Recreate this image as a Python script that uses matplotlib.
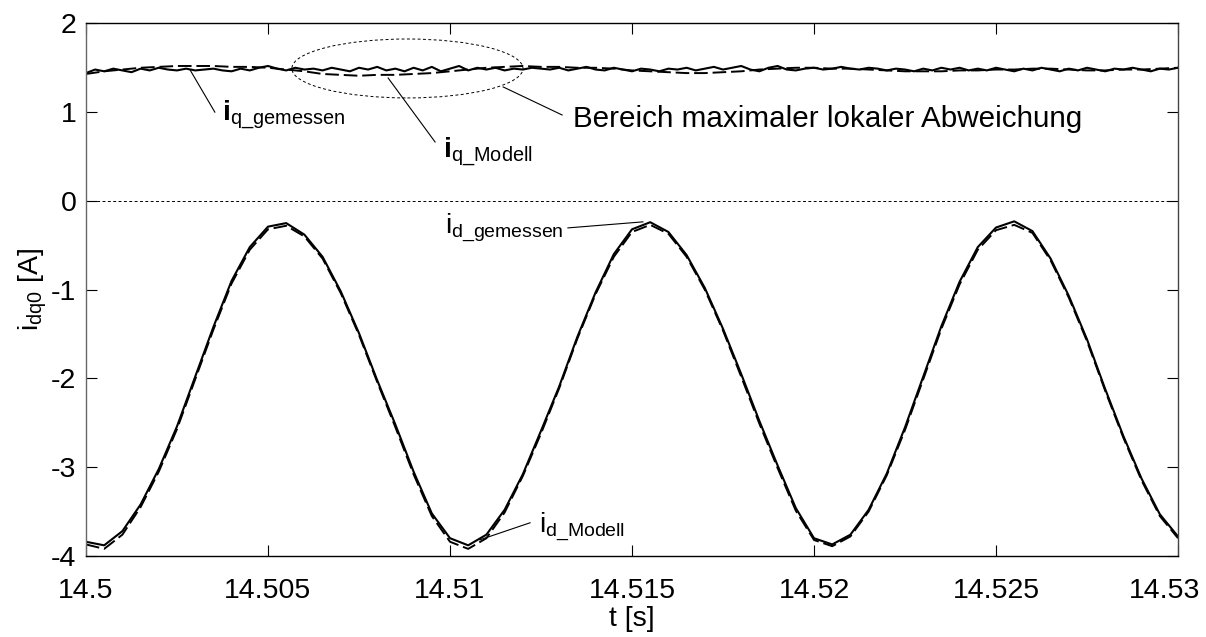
import numpy as np
import matplotlib
matplotlib.use("Agg")
import matplotlib.pyplot as plt
from matplotlib.patches import Ellipse

plt.rcParams['font.family'] = ['Liberation Sans', 'DejaVu Sans']
plt.rcParams['mathtext.fontset'] = 'custom'
plt.rcParams['mathtext.rm'] = 'Liberation Sans'
plt.rcParams['mathtext.it'] = 'Liberation Sans:italic'
plt.rcParams['mathtext.bf'] = 'Liberation Sans:bold'
plt.rcParams['axes.unicode_minus'] = False

# ---------------- data ----------------
t0 = 14.5
# time grid for d-axis currents and q-model (ms offset from 14.5 s), step 0.5 ms
t_ms_coarse = np.arange(0, 30.001, 0.5)
# time grid for measured q current, step 0.25 ms
t_ms_fine = np.arange(0, 30.001, 0.25)

id_gemessen = [
    -3.84, -3.88, -3.72, -3.42, -3.02, -2.54, -1.98, -1.42, -0.90, -0.52,
    -0.29, -0.25, -0.38, -0.63, -1.02, -1.49, -2.02, -2.52, -3.05, -3.52,
    -3.80, -3.88, -3.76, -3.48, -3.08, -2.59, -2.09, -1.53, -1.03, -0.60,
    -0.32, -0.24, -0.35, -0.61, -0.98, -1.44, -1.95, -2.48, -2.98, -3.46,
    -3.80, -3.87, -3.76, -3.48, -3.07, -2.55, -1.98, -1.41, -0.91, -0.52,
    -0.30, -0.23, -0.34, -0.65, -1.07, -1.56, -2.12, -2.65, -3.13, -3.53,
    -3.78]

id_modell = [
    -3.87, -3.92, -3.76, -3.45, -3.05, -2.57, -2.01, -1.45, -0.93, -0.55,
    -0.32, -0.28, -0.40, -0.65, -1.04, -1.51, -2.04, -2.55, -3.08, -3.55,
    -3.84, -3.92, -3.80, -3.51, -3.10, -2.62, -2.11, -1.55, -1.05, -0.63,
    -0.35, -0.27, -0.37, -0.63, -1.00, -1.46, -1.98, -2.51, -3.01, -3.49,
    -3.82, -3.89, -3.78, -3.50, -3.09, -2.58, -2.01, -1.44, -0.94, -0.55,
    -0.33, -0.27, -0.36, -0.67, -1.09, -1.58, -2.14, -2.67, -3.15, -3.55,
    -3.80]

iq_gemessen = [
    1.44, 1.48, 1.46, 1.49, 1.47, 1.45, 1.49, 1.47, 1.50, 1.48,
    1.47, 1.49, 1.47, 1.48, 1.49, 1.47, 1.46, 1.49, 1.47, 1.50,
    1.52, 1.49, 1.47, 1.50, 1.48, 1.49, 1.47, 1.50, 1.48, 1.46,
    1.50, 1.48, 1.51, 1.47, 1.49, 1.46, 1.50, 1.47, 1.51, 1.46,
    1.49, 1.52, 1.47, 1.50, 1.48, 1.50, 1.47, 1.49, 1.48, 1.50,
    1.49, 1.48, 1.50, 1.47, 1.49, 1.51, 1.48, 1.47, 1.50, 1.48,
    1.46, 1.49, 1.48, 1.46, 1.49, 1.48, 1.50, 1.47, 1.49, 1.51,
    1.48, 1.50, 1.52, 1.48, 1.46, 1.50, 1.52, 1.48, 1.47, 1.49,
    1.50, 1.48, 1.49, 1.51, 1.49, 1.48, 1.50, 1.49, 1.47, 1.49,
    1.48, 1.46, 1.49, 1.47, 1.50, 1.48, 1.50, 1.47, 1.49, 1.47,
    1.50, 1.48, 1.46, 1.49, 1.47, 1.50, 1.48, 1.46, 1.49, 1.47,
    1.50, 1.48, 1.46, 1.49, 1.48, 1.50, 1.48, 1.46, 1.49, 1.48,
    1.50]

iq_modell = [
    1.43, 1.46, 1.48, 1.50, 1.51, 1.52, 1.52, 1.52, 1.51, 1.51,
    1.50, 1.48, 1.46, 1.43, 1.42, 1.41, 1.42, 1.42, 1.43, 1.44,
    1.46, 1.48, 1.50, 1.51, 1.52, 1.51, 1.51, 1.50, 1.50, 1.49,
    1.47, 1.46, 1.45, 1.44, 1.44, 1.45, 1.46, 1.48, 1.49, 1.50,
    1.50, 1.49, 1.49, 1.48, 1.47, 1.46, 1.46, 1.46, 1.47, 1.47,
    1.48, 1.48, 1.49, 1.49, 1.48, 1.47, 1.47, 1.48, 1.48, 1.49,
    1.50]

x_ticks = [14.5, 14.505, 14.51, 14.515, 14.52, 14.525, 14.53]
x_ticklabels = ['14.5', '14.505', '14.51', '14.515', '14.52', '14.525', '14.53']
y_ticks = [-4, -3, -2, -1, 0, 1, 2]

# ---------------- figure ----------------
fig = plt.figure(figsize=(12.06, 6.37), dpi=100)
ax = fig.add_axes([0.0713, 0.1272, 0.9055, 0.8361])

tc = t0 + t_ms_coarse / 1000.0
tf = t0 + t_ms_fine / 1000.0

dash = (0, (7, 2.5))
ax.plot(tc, id_modell, color='black', lw=1.4, ls=dash)
ax.plot(tc, id_gemessen, color='black', lw=1.5)
ax.plot(tc, iq_modell, color='black', lw=1.4, ls=dash)
ax.plot(tf, iq_gemessen, color='black', lw=1.5)

ax.axhline(0, color='black', lw=0.7, ls=(0, (3, 2.5)))

ax.add_patch(Ellipse((14.50883, 1.492), 0.00635, 0.664, fill=False,
                     edgecolor='black', lw=0.7, ls=(0, (3, 2.5))))

ax.set_xlim(14.5, 14.53)
ax.set_ylim(-4, 2)
ax.set_xticks(x_ticks)
ax.set_xticklabels(x_ticklabels[:-1] + [''])
ax.set_yticks(y_ticks)
ax.tick_params(direction='in', length=8, width=0.8, top=True, right=True,
               labelsize=20.5)
ax.tick_params(axis='x', pad=16)
ax.tick_params(axis='y', pad=7)
for s in ax.spines.values():
    s.set_linewidth(1.0)
ax.spines['left'].set_color('#666666')
ax.spines['right'].set_color('#444444')

# last x tick label, shifted left to stay inside the figure (as in reference)
ax.annotate(x_ticklabels[-1], xy=(x_ticks[-1], 0), xycoords=('data', 'axes fraction'),
            xytext=(-10, -16), textcoords='offset points', ha='center', va='top',
            fontsize=20.5)

ax.set_xlabel('t [s]', fontsize=20.5)
ax.xaxis.set_label_coords(0.5, -0.093)
ax.xaxis.label.set_va('top')
ax.set_ylabel(r'$\mathrm{i}_{\mathrm{dq0}}$ [A]', fontsize=20.5)
ax.yaxis.set_label_coords(-0.034, 0.5)

lw_ann = 0.8
fs = 20.5
# i_q_gemessen
ax.plot([14.50286, 14.50354], [1.475, 1.0], color='black', lw=lw_ann)
ax.text(14.50374, 0.912, r'$\mathbf{i}_{\mathrm{q\_gemessen}}$', fontsize=fs,
        va='baseline', ha='left')
# i_q_Modell
ax.plot([14.50830, 14.50959], [1.385, 0.664], color='black', lw=lw_ann)
ax.text(14.50981, 0.495, r'$\mathbf{i}_{\mathrm{q\_Modell}}$', fontsize=fs,
        va='baseline', ha='left')
# Bereich
ax.plot([14.51146, 14.51308], [1.284, 0.968], color='black', lw=lw_ann)
ax.text(14.51338, 0.833, 'Bereich maximaler lokaler Abweichung', fontsize=21.3,
        va='baseline', ha='left')
# i_d_gemessen
ax.plot([14.51324, 14.51530], [-0.304, -0.236], color='black', lw=lw_ann)
ax.text(14.50985, -0.36, r'$\mathrm{i}_{\mathrm{d\_gemessen}}$', fontsize=20,
        va='baseline', ha='left')
# i_d_Modell
ax.plot([14.51220, 14.51082], [-3.626, -3.818], color='black', lw=lw_ann)
ax.text(14.51245, -3.73, r'$\mathrm{i}_{\mathrm{d\_Modell}}$', fontsize=20,
        va='baseline', ha='left')

fig.savefig('out.png', dpi=100)
